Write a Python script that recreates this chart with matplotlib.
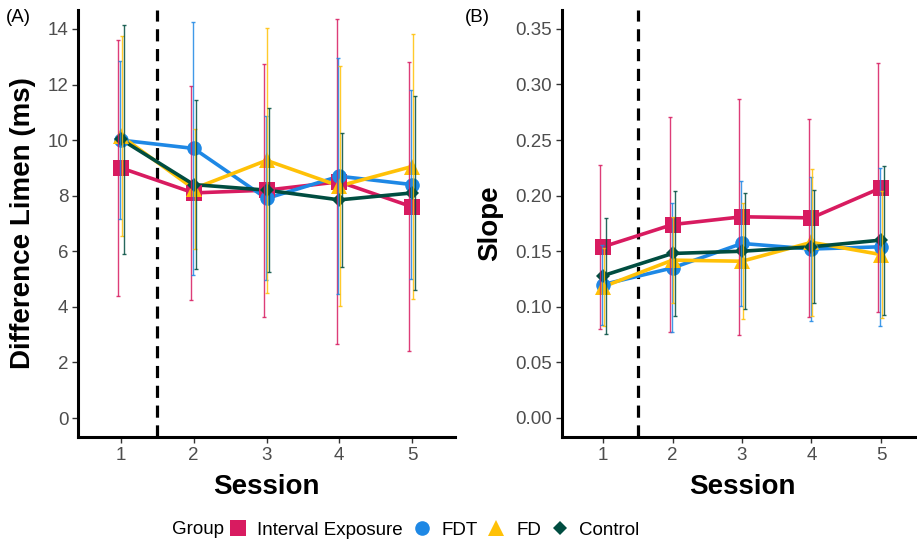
import matplotlib
matplotlib.use("Agg")
import matplotlib.pyplot as plt
from matplotlib.lines import Line2D
import numpy as np

plt.rcParams['font.family'] = ['Liberation Sans', 'DejaVu Sans']

sessions = [1, 2, 3, 4, 5]
groups = ["Interval Exposure", "FDT", "FD", "Control"]

# Difference limen (ms): group means and error half-widths per session
dl_ie = [9.0, 8.1, 8.2, 8.5, 7.6]
dl_fdt = [10.0, 9.7, 7.9, 8.7, 8.4]
dl_fd = [10.15, 8.25, 9.27, 8.35, 9.05]
dl_ctrl = [10.03, 8.4, 8.2, 7.85, 8.1]

dl_ie_err = [4.6, 3.85, 4.55, 5.85, 5.2]
dl_fdt_err = [2.85, 4.55, 2.95, 4.25, 3.4]
dl_fd_err = [3.6, 2.15, 4.77, 4.3, 4.75]
dl_ctrl_err = [4.12, 3.05, 2.95, 2.4, 3.5]

# Psychometric slope: group means and error half-widths per session
sl_ie = [0.154, 0.174, 0.181, 0.180, 0.207]
sl_fdt = [0.120, 0.135, 0.157, 0.152, 0.154]
sl_fd = [0.118, 0.142, 0.141, 0.158, 0.147]
sl_ctrl = [0.128, 0.148, 0.150, 0.154, 0.160]

sl_ie_err = [0.074, 0.097, 0.106, 0.089, 0.112]
sl_fdt_err = [0.036, 0.058, 0.056, 0.065, 0.071]
sl_fd_err = [0.035, 0.039, 0.052, 0.066, 0.057]
sl_ctrl_err = [0.052, 0.056, 0.052, 0.051, 0.067]

dl_ticks = [0, 2, 4, 6, 8, 10, 12, 14]
sl_ticks = [0.00, 0.05, 0.10, 0.15, 0.20, 0.25, 0.30, 0.35]
sl_ticklabels = ["0.00", "0.05", "0.10", "0.15", "0.20", "0.25", "0.30", "0.35"]

colors = ["#D81B60", "#1E88E5", "#FFC107", "#004D40"]
markers = ["s", "o", "^", "D"]
msizes = [11, 10.5, 12, 7]
dodge = [-0.0375, -0.0125, 0.0125, 0.0375]

W, H = 917, 554
fig = plt.figure(figsize=(W / 100, H / 100), dpi=100)


def px_axes(left, right, top, bottom):
    return fig.add_axes([left / W, 1 - bottom / H, (right - left) / W, (bottom - top) / H])


def draw_panel(ax, means, errs, ylim, ticks, ticklabels):
    for i in range(len(groups)):
        ax.plot(sessions, means[i], color=colors[i], lw=2.6, zorder=2,
                solid_capstyle='round')
    for i in range(len(groups)):
        ax.plot(sessions, means[i], linestyle='none', marker=markers[i],
                markersize=msizes[i], color=colors[i], markeredgewidth=0, zorder=3)
    for i in range(len(groups)):
        xs = np.array(sessions) + dodge[i]
        ax.errorbar(xs, means[i], yerr=errs[i], fmt='none', ecolor=colors[i],
                    elinewidth=1.0, capsize=1.6, capthick=1.0, alpha=0.85, zorder=4)
    ax.axvline(1.5, color='black', lw=2.3, dashes=(3.8, 2.4), zorder=1)
    ax.set_xlim(0.41, 5.59)
    ax.set_ylim(*ylim)
    ax.set_xticks(sessions)
    ax.set_xticklabels([str(s) for s in sessions])
    ax.set_yticks(ticks)
    ax.set_yticklabels(ticklabels)
    for side in ['top', 'right']:
        ax.spines[side].set_visible(False)
    for side in ['left', 'bottom']:
        ax.spines[side].set_linewidth(2.2)
        ax.spines[side].set_color('black')
    ax.tick_params(axis='both', length=4, width=1.0, color='#333333',
                   labelcolor='#4D4D4D', labelsize=13.5, pad=3)
    ax.patch.set_alpha(0)


axA = px_axes(78, 455, 10, 437)
draw_panel(axA, [dl_ie, dl_fdt, dl_fd, dl_ctrl],
           [dl_ie_err, dl_fdt_err, dl_fd_err, dl_ctrl_err],
           (-0.68, 14.68), dl_ticks, [str(t) for t in dl_ticks])

axB = px_axes(562, 922, 10, 437)
draw_panel(axB, [sl_ie, sl_fdt, sl_fd, sl_ctrl],
           [sl_ie_err, sl_fdt_err, sl_fd_err, sl_ctrl_err],
           (-0.0171, 0.367), sl_ticks, sl_ticklabels)

# Axis titles
fig.text(23 / W, 1 - 223 / H, "Difference Limen (ms)", rotation=90, ha='center',
         va='center', fontsize=20, fontweight='bold')
fig.text(490 / W, 1 - 223 / H, "Slope", rotation=90, ha='center', va='center',
         fontsize=20, fontweight='bold')
fig.text(266 / W, 1 - 487 / H, "Session", ha='center', va='center',
         fontsize=20, fontweight='bold')
fig.text(742 / W, 1 - 487 / H, "Session", ha='center', va='center',
         fontsize=20, fontweight='bold')

# Panel tags
fig.text(6 / W, 1 - 18 / H, "(A)", ha='left', va='center', fontsize=13.5)
fig.text(465 / W, 1 - 18 / H, "(B)", ha='left', va='center', fontsize=13.5)

# Legend along the bottom
fig.text(172 / W, 1 - 530 / H, "Group", ha='left', va='center', fontsize=13.5)
handles = [Line2D([], [], linestyle='none', marker=markers[i], color=colors[i],
                  markersize=msizes[i], markeredgewidth=0) for i in range(len(groups))]
fig.legend(handles, groups, loc='center', bbox_to_anchor=(434 / W, 1 - 530 / H),
           ncol=4, frameon=False, fontsize=13.5, handlelength=1.0,
           handletextpad=0.55, columnspacing=0.5, borderpad=0, borderaxespad=0)

fig.savefig("out.png", dpi=100)
